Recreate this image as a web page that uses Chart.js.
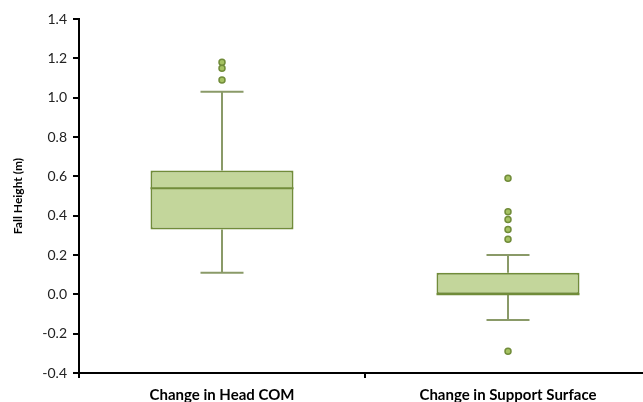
<!DOCTYPE html>
<html>
<head>
<meta charset="utf-8">
<style>
  html, body { margin: 0; padding: 0; overflow: hidden; background: #fff; }
  #wrap { position: relative; width: 660px; height: 402px; }
</style>
<script src="https://cdn.jsdelivr.net/npm/chart.js@4/dist/chart.umd.min.js"></script>
</head>
<body>
<div id="wrap"><canvas id="c" width="660" height="402"></canvas></div>
<script>
// Box-plot summary for each measure (metres)
const categories = ['Change in Head COM', 'Change in Support Surface'];
const whiskerLow  = [0.11, -0.13];
const q1          = [0.33, 0.00];
const median      = [0.54, 0.00];
const q3          = [0.63, 0.11];
const whiskerHigh = [1.03, 0.20];
const outliersHead    = [1.09, 1.15, 1.18];
const outliersSupport = [-0.29, 0.28, 0.33, 0.38, 0.42, 0.59];
const yMin = -0.4, yMax = 1.4, yStep = 0.2;

const BOX_FILL = '#c3d69b';
const BOX_EDGE = '#718c3a';
const WHISKER = '#8a9a68';
const FONT = 'Lato, "Open Sans", sans-serif';

// Whiskers under the boxes, median lines on top of them
const boxPlotParts = {
  id: 'boxPlotParts',
  beforeDatasetsDraw(chart) {
    const ctx = chart.ctx;
    const xs = chart.scales.x, ys = chart.scales.y;
    const capHalf = 21.5;
    ctx.save();
    ctx.strokeStyle = WHISKER;
    ctx.lineWidth = 2;
    categories.forEach((c, i) => {
      const x = xs.getPixelForValue(i);
      const yl = ys.getPixelForValue(whiskerLow[i]);
      const yh = ys.getPixelForValue(whiskerHigh[i]);
      const y1 = ys.getPixelForValue(q1[i]);
      const y3 = ys.getPixelForValue(q3[i]);
      ctx.beginPath();
      ctx.moveTo(x, yh); ctx.lineTo(x, y3);
      ctx.moveTo(x, y1); ctx.lineTo(x, yl);
      ctx.moveTo(x - capHalf, yh); ctx.lineTo(x + capHalf, yh);
      ctx.moveTo(x - capHalf, yl); ctx.lineTo(x + capHalf, yl);
      ctx.stroke();
    });
    ctx.restore();
  },
  afterDatasetsDraw(chart) {
    const ctx = chart.ctx;
    const ys = chart.scales.y;
    const meta = chart.getDatasetMeta(0);
    ctx.save();
    ctx.strokeStyle = BOX_EDGE;
    ctx.lineWidth = 2;
    meta.data.forEach((bar, i) => {
      const y = ys.getPixelForValue(median[i]);
      ctx.beginPath();
      ctx.moveTo(bar.x - bar.width / 2, y);
      ctx.lineTo(bar.x + bar.width / 2, y);
      ctx.stroke();
    });
    ctx.restore();
  }
};

const outlierStyle = {
  type: 'line',
  showLine: false,
  pointRadius: 3,
  pointBorderWidth: 1.5,
  pointBackgroundColor: '#a5c262',
  pointBorderColor: BOX_EDGE
};

new Chart(document.getElementById('c'), {
  type: 'bar',
  data: {
    labels: categories,
    datasets: [
      {
        label: 'Interquartile range',
        data: q1.map((v, i) => [v, q3[i]]),
        backgroundColor: BOX_FILL,
        borderColor: BOX_EDGE,
        borderWidth: 2,
        borderSkipped: false,
        barPercentage: 0.5,
        categoryPercentage: 1.0
      },
      Object.assign({ label: 'Outliers (Head COM)',
        data: outliersHead.map(v => ({ x: categories[0], y: v })) }, outlierStyle),
      Object.assign({ label: 'Outliers (Support Surface)',
        data: outliersSupport.map(v => ({ x: categories[1], y: v })) }, outlierStyle)
    ]
  },
  options: {
    responsive: false,
    animation: false,
    devicePixelRatio: 1,
    layout: { padding: { top: 19, right: 9, left: 0, bottom: 0 } },
    plugins: { legend: { display: false }, tooltip: { enabled: false } },
    scales: {
      x: {
        offset: true,
        grid: { drawOnChartArea: false, drawTicks: true, tickLength: 5, color: '#000', lineWidth: 2, offset: true },
        border: { display: true, color: '#000', width: 2 },
        ticks: { color: '#000', padding: 8, maxRotation: 0, autoSkip: false,
                 font: { family: FONT, size: 15, weight: 'bold' } },
        afterFit(scale) { scale.height = 29; }
      },
      y: {
        min: yMin, max: yMax,
        grid: { drawOnChartArea: false, drawTicks: true, tickLength: 6, color: '#000', lineWidth: 2 },
        border: { display: true, color: '#000', width: 2 },
        ticks: {
          stepSize: yStep, color: '#222', padding: 6,
          font: { family: FONT, size: 14 },
          callback: v => (Math.abs(v) < 1e-9 ? 0 : Number(v)).toFixed(1)
        },
        title: {
          display: true, text: 'Fall Height (m)', color: '#000',
          font: { family: FONT, size: 12, weight: 'bold' },
          padding: { top: 11, bottom: 0 }
        },
        afterFit(scale) { scale.width = 79; }
      }
    }
  },
  plugins: [boxPlotParts]
});
</script>
</body>
</html>
